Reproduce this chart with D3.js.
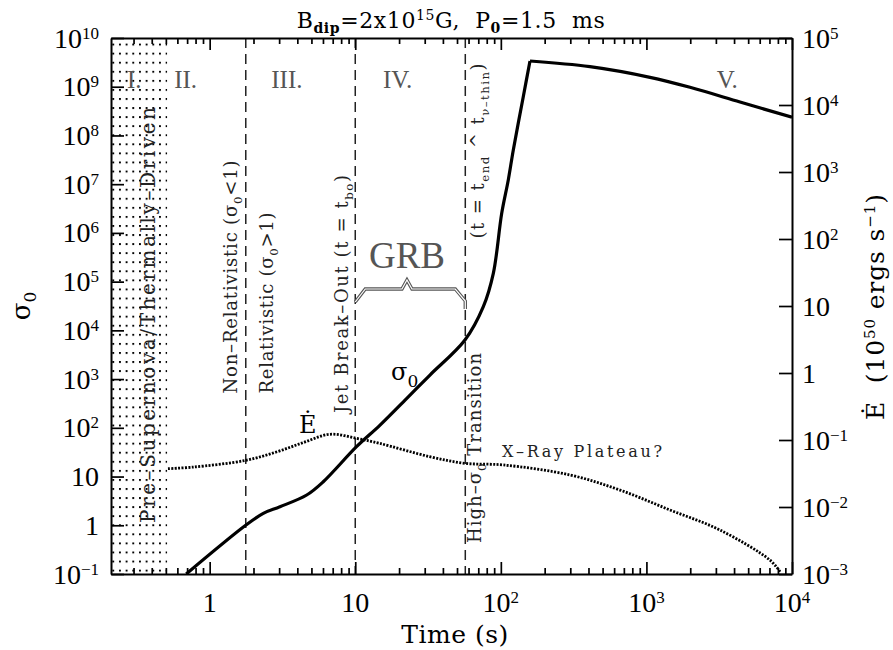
<!DOCTYPE html>
<html>
<head>
<meta charset="utf-8">
<script src="https://cdn.jsdelivr.net/npm/d3@7"></script>
<style>
  body { margin: 0; background: #fff; }
  svg text { white-space: pre; }
</style>
</head>
<body>
<svg id="chart" width="893" height="650"></svg>
<script>
// sigma_0 curve (left axis), time in s
const tSigma = [0.69, 1.776, 2.335, 3.04, 4.64, 6.03, 10.2, 14.8, 22.6, 32.6, 56.7, 75.8, 88.8, 101.4, 112.5, 121.8, 142.6, 158.6, 409, 1058, 1992, 4393, 10000];
const sigma0 = [0.1, 1.01, 1.76, 2.40, 4.18, 7.83, 41.0, 114, 404, 1213, 6340, 3.06e4, 1.48e5, 2.53e6, 1.22e7, 5.04e7, 6.25e8, 3.37e9, 2.58e9, 1.56e9, 9.73e8, 4.86e8, 2.36e8];
const peakIndex = 17;

// Edot curve (right axis, 10^50 erg/s)
const tEdot = [0.517, 0.768, 1.77, 2.87, 4.38, 6.68, 10.2, 14.7, 32.5, 56.6, 104, 298, 658, 1452, 3200, 7060, 8280];
const edot = [0.0373, 0.0394, 0.0497, 0.0662, 0.0912, 0.1216, 0.106, 0.089, 0.0564, 0.0449, 0.0424, 0.0301, 0.0179, 0.00902, 0.00453, 0.00161, 0.00108];

const phaseBounds = [1.77, 10, 57];
const thermalEnd = 0.51;
const romans = [["I.", 0.27], ["II.", 0.57], ["III.", 2.65], ["IV.", 15.5], ["V.", 3040]];

const yLeftTicks = d3.range(-1, 11).map(e => Math.pow(10, e));
const yRightTicks = d3.range(-3, 6).map(e => Math.pow(10, e));
const xLabelTicks = [1, 10, 100, 1000, 10000];

const svg = d3.select("#chart");
const pL = 111, pR = 792, pT = 38, pB = 574;

const x = d3.scaleLog().domain([0.21, 1e4]).range([pL, pR]);
const yL = d3.scaleLog().domain([0.1, 1e10]).range([pB, pT]);
const yR = d3.scaleLog().domain([1e-3, 1e5]).range([pB, pT]);

const serif = "'DejaVu Serif', serif";
const tickFont = "'Liberation Serif', serif";

const defs = svg.append("defs");
defs.append("clipPath").attr("id", "plot-clip")
    .append("rect").attr("x", pL).attr("y", pT)
    .attr("width", pR - pL).attr("height", pB - pT);

const pat = defs.append("pattern")
    .attr("id", "dots")
    .attr("patternUnits", "userSpaceOnUse")
    .attr("x", 112.3).attr("y", 43.6)
    .attr("width", 6.67).attr("height", 9.07);
pat.append("rect").attr("x", 0).attr("y", 0).attr("width", 1.9).attr("height", 1.9).attr("fill", "#000");

// dotted region I
svg.append("rect")
    .attr("x", pL).attr("y", pT)
    .attr("width", x(thermalEnd) - pL).attr("height", pB - pT)
    .attr("fill", "url(#dots)");

// phase boundaries
svg.selectAll(".bound")
    .data(phaseBounds)
    .enter()
    .append("line")
    .attr("class", "bound")
    .attr("x1", d => x(d)).attr("x2", d => x(d))
    .attr("y1", pT).attr("y2", pB)
    .attr("stroke", "#222")
    .attr("stroke-width", 1.5)
    .attr("stroke-dasharray", "10,6");

// curves
const plot = svg.append("g").attr("clip-path", "url(#plot-clip)");

const sigmaLine = d3.line()
    .curve(d3.curveCatmullRom.alpha(0.5))
    .x(d => x(d[0]))
    .y(d => yL(d[1]));

const sigmaPts = d3.zip(tSigma, sigma0);
plot.selectAll(".sigma")
    .data([sigmaPts.slice(0, peakIndex + 1), sigmaPts.slice(peakIndex)])
    .enter()
    .append("path")
    .attr("class", "sigma")
    .attr("d", sigmaLine)
    .attr("fill", "none")
    .attr("stroke", "#000")
    .attr("stroke-width", 3.2)
    .attr("stroke-linejoin", "miter");

const edotLine = d3.line()
    .curve(d3.curveCatmullRom)
    .x(d => x(d[0]))
    .y(d => yR(d[1]));

plot.append("path")
    .datum(d3.zip(tEdot, edot))
    .attr("d", edotLine)
    .attr("fill", "none")
    .attr("stroke", "#000")
    .attr("stroke-width", 2.8)
    .attr("stroke-dasharray", "2,1.4");

// axes
const isMajor = v => Math.abs(Math.log10(v) - Math.round(Math.log10(v))) < 1e-6;
const xTickVals = [];
for (let e = -1; e <= 3; e++) {
    for (let m = 1; m <= 9; m++) {
        const v = m * Math.pow(10, e);
        if (v >= 0.21 && v <= 1e4) xTickVals.push(v);
    }
}
xTickVals.push(1e4);

function styleAxis(g) {
    g.select(".domain").attr("stroke-width", 2);
    g.selectAll(".tick line").attr("stroke-width", 1.7);
}

svg.append("g")
    .attr("transform", `translate(0,${pB})`)
    .call(d3.axisBottom(x).tickValues(xTickVals).tickSizeInner(-12).tickSizeOuter(0).tickFormat(""))
    .call(styleAxis)
    .call(g => g.selectAll(".tick line").attr("y2", d => isMajor(d) ? -12 : -6));

svg.append("g")
    .attr("transform", `translate(0,${pT})`)
    .call(d3.axisTop(x).tickValues(xTickVals).tickSizeInner(-12).tickSizeOuter(0).tickFormat(""))
    .call(styleAxis)
    .call(g => g.selectAll(".tick line").attr("y2", d => isMajor(d) ? 12 : 6));

svg.append("g")
    .attr("transform", `translate(${pL},0)`)
    .call(d3.axisLeft(yL).tickValues(yLeftTicks).tickSizeInner(-13).tickSizeOuter(0).tickFormat(""))
    .call(styleAxis);

svg.append("g")
    .attr("transform", `translate(${pR},0)`)
    .call(d3.axisRight(yR).tickValues(yRightTicks).tickSizeInner(-13).tickSizeOuter(0).tickFormat(""))
    .call(styleAxis);

// power-of-ten labels
function powLabel(sel) {
    sel.each(function (v) {
        const e = Math.round(Math.log10(v));
        const t = d3.select(this);
        if (e === 0) t.text("1");
        else if (e === 1) t.text("10");
        else {
            t.text("10");
            t.append("tspan").attr("dy", -9).attr("font-size", 17)
                .text(e < 0 ? "\u2212" + (-e) : String(e));
        }
    });
}

svg.selectAll(".ylab-l")
    .data(yLeftTicks)
    .enter()
    .append("text")
    .attr("class", "ylab-l")
    .attr("x", 99)
    .attr("y", d => yL(d) + 9.5)
    .attr("text-anchor", "end")
    .attr("font-family", tickFont)
    .attr("font-size", 28)
    .call(powLabel);

svg.selectAll(".ylab-r")
    .data(yRightTicks)
    .enter()
    .append("text")
    .attr("class", "ylab-r")
    .attr("x", 802)
    .attr("y", d => yR(d) + 9.5)
    .attr("text-anchor", "start")
    .attr("font-family", tickFont)
    .attr("font-size", 28)
    .call(powLabel);

svg.selectAll(".xlab")
    .data(xLabelTicks)
    .enter()
    .append("text")
    .attr("class", "xlab")
    .attr("x", d => x(d))
    .attr("y", 612)
    .attr("text-anchor", "middle")
    .attr("font-family", tickFont)
    .attr("font-size", 28)
    .call(powLabel);

// titles
const title = svg.append("text")
    .attr("x", 451).attr("y", 28)
    .attr("text-anchor", "middle")
    .attr("font-family", serif)
    .attr("font-size", 22)
    .attr("letter-spacing", 0.6);
title.append("tspan").text("B");
title.append("tspan").attr("dy", 5).attr("font-size", 14).attr("font-weight", "bold").text("dip");
title.append("tspan").attr("dy", -5).text("=2x10");
title.append("tspan").attr("dy", -8).attr("font-size", 14).text("15");
title.append("tspan").attr("dy", 8).text("G,  P");
title.append("tspan").attr("dy", 5).attr("font-size", 14).attr("font-weight", "bold").text("0");
title.append("tspan").attr("dy", -5).text("=1.5  ms");

svg.append("text")
    .attr("x", 455).attr("y", 643)
    .attr("text-anchor", "middle")
    .attr("font-family", serif)
    .attr("font-size", 25)
    .attr("letter-spacing", 0.5)
    .text("Time (s)");

const yTitle = svg.append("text")
    .attr("transform", "translate(30,306) rotate(-90)")
    .attr("text-anchor", "middle")
    .attr("font-family", serif)
    .attr("font-size", 26);
yTitle.append("tspan").text("\u03c3");
yTitle.append("tspan").attr("dy", 6).attr("font-size", 17).text("0");

const rTitle = svg.append("text")
    .attr("transform", "translate(884,307) rotate(-90)")
    .attr("text-anchor", "middle")
    .attr("font-family", serif)
    .attr("font-size", 25)
    .attr("textLength", 226)
    .attr("lengthAdjust", "spacing");
rTitle.append("tspan").text("\u0116  (10");
rTitle.append("tspan").attr("dy", -9).attr("font-size", 15).text("50");
rTitle.append("tspan").attr("dy", 9).text(" ergs s");
rTitle.append("tspan").attr("dy", -9).attr("font-size", 15).text("\u22121");
rTitle.append("tspan").attr("dy", 9).text(")");

// roman numerals
svg.selectAll(".roman")
    .data(romans)
    .enter()
    .append("text")
    .attr("class", "roman")
    .attr("x", d => x(d[1]))
    .attr("y", 88)
    .attr("font-family", tickFont)
    .attr("font-size", 25)
    .attr("fill", "#555")
    .text(d => d[0]);

// rotated phase labels
function vlabel(parts, bx, my, len, size) {
    const t = svg.append("text")
        .attr("transform", `translate(${bx},${my}) rotate(-90)`)
        .attr("text-anchor", "middle")
        .attr("font-family", serif)
        .attr("font-size", size)
        .attr("fill", "#222")
        .attr("textLength", len)
        .attr("lengthAdjust", "spacing");
    let shift = 0;
    parts.forEach(p => {
        const s = t.append("tspan").text(p.text);
        const target = p.sub ? 5 : 0;
        if (target !== shift) { s.attr("dy", target - shift); shift = target; }
        if (p.sub) s.attr("font-size", size * 0.65);
    });
}

vlabel([{ text: "Pre\u2013Supernova/Thermally\u2013Driven" }], 155, 315, 416, 20);
vlabel([{ text: "Non\u2013Relativistic (\u03c3" }, { text: "0", sub: true }, { text: "<1)" }], 237, 277, 233, 18);
vlabel([{ text: "Relativistic (\u03c3" }, { text: "0", sub: true }, { text: ">1)" }], 273, 303, 181, 18);
vlabel([{ text: "Jet Break\u2013Out (t = t" }, { text: "bo", sub: true }, { text: ")" }], 348, 294, 238, 18);
vlabel([{ text: "(t = t" }, { text: "end", sub: true }, { text: " ^ t" }, { text: "\u03bd\u2013thin", sub: true }, { text: ")" }], 484, 151, 175, 18);
vlabel([{ text: "High\u2013\u03c3" }, { text: "0", sub: true }, { text: " Transition" }], 481, 448, 190, 18);

// GRB brace
const bx0 = x(10), bx1 = x(57);
const bmid = bx0 + (bx1 - bx0) * 0.47;
const brace = [[bx0, 302], [bx0 + 10, 289], [bmid - 5, 289], [bmid, 280], [bmid + 5, 289], [bx1 - 10, 289], [bx1, 301], [bx1, 309]];
svg.append("path")
    .attr("d", d3.line()(brace))
    .attr("fill", "none").attr("stroke", "#555").attr("stroke-width", 3.4);
svg.append("path")
    .attr("d", d3.line()(brace))
    .attr("fill", "none").attr("stroke", "#fff").attr("stroke-width", 1.2);

svg.append("text")
    .attr("x", bmid).attr("y", 268)
    .attr("text-anchor", "middle")
    .attr("font-family", tickFont)
    .attr("font-size", 37)
    .attr("fill", "#555")
    .text("GRB");

// curve labels
const sLab = svg.append("text")
    .attr("x", 391).attr("y", 380)
    .attr("font-family", serif)
    .attr("font-size", 24);
sLab.append("tspan").text("\u03c3");
sLab.append("tspan").attr("dy", 7).attr("font-size", 17).text("0");

svg.append("text")
    .attr("x", 299).attr("y", 433)
    .attr("font-family", serif)
    .attr("font-size", 24)
    .text("\u0116");

svg.append("text")
    .attr("x", 502).attr("y", 457)
    .attr("font-family", serif)
    .attr("font-size", 16)
    .attr("fill", "#222")
    .attr("textLength", 160)
    .attr("lengthAdjust", "spacing")
    .text("X\u2013Ray Plateau?");
</script>
</body>
</html>
